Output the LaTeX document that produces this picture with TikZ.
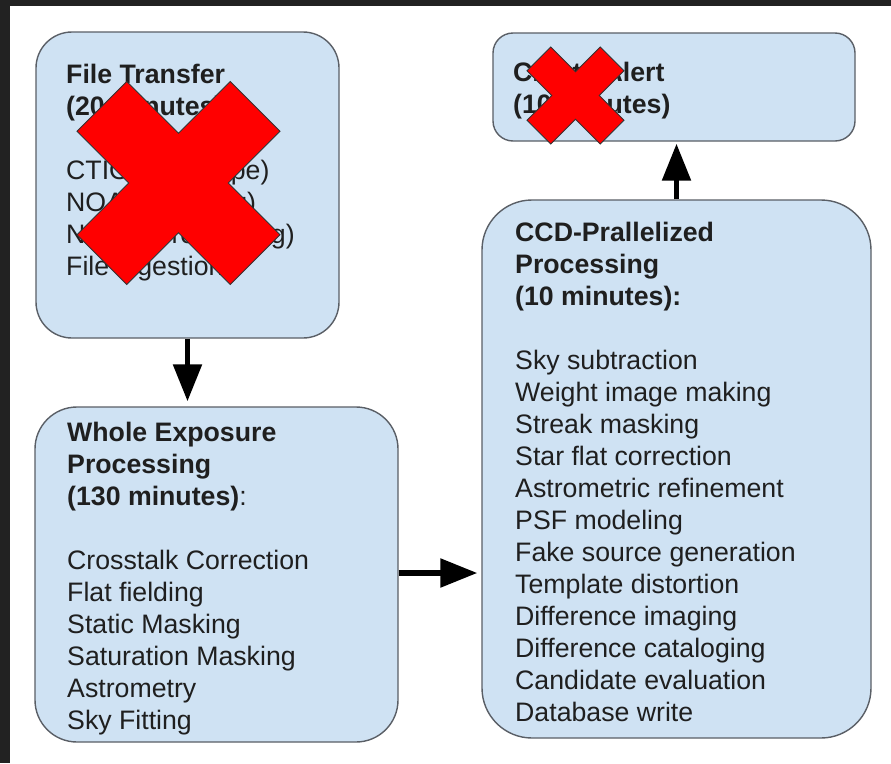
\documentclass[tikz,border=0pt]{standalone}
\usepackage{fontspec}
\setmainfont{Liberation Sans}
\usetikzlibrary{arrows.meta}

\definecolor{boxfill}{HTML}{CFE2F3}
\definecolor{boxline}{HTML}{5A5F66}
\definecolor{frameedge}{HTML}{222222}
\definecolor{xred}{HTML}{FF0000}
\definecolor{xline}{HTML}{333333}

\tikzset{
  stage/.style={draw=boxline, line width=1.4pt, fill=boxfill, inner sep=0pt},
  body/.style={inner sep=0pt, anchor=base west, font=\fontsize{26.7}{32}\selectfont, text=black!88},
  flow/.style={line width=5.5pt, draw=black, -{Triangle[length=37pt,width=28pt]}},
  xmark/.style={fill=xred, draw=xline, line width=1pt, line join=miter},
}

% a red cross centred at (#1,#2) with half size #3
\newcommand{\redcross}[3]{%
  \draw[xmark, shift={(#1,#2)}, x=#3pt, y=#3pt]
    (-0.51,-1) -- (0,-0.49) -- (0.51,-1) -- (1,-0.51) -- (0.49,0) -- (1,0.51)
    -- (0.51,1) -- (0,0.49) -- (-0.51,1) -- (-1,0.51) -- (-0.49,0) -- (-1,-0.51) -- cycle;}

\begin{document}
\begin{tikzpicture}[x=1pt, y=-1pt]
  \useasboundingbox (0,0) rectangle (891,763);
  \fill[white] (0,0) rectangle (891,763);
  \fill[frameedge] (0,0) rectangle (891,6);
  \fill[frameedge] (0,0) rectangle (10,763);

  % stage boxes
  \node[stage, rounded corners=36pt, minimum width=303pt, minimum height=306pt] (ft)  at (187.5,185) {};
  \node[stage, rounded corners=20pt, minimum width=362pt, minimum height=108pt] (al)  at (674,87) {};
  \node[stage, rounded corners=42pt, minimum width=363pt, minimum height=335pt] (wep) at (216.5,574.5) {};
  \node[stage, rounded corners=50pt, minimum width=389pt, minimum height=538pt] (ccd) at (676.5,469) {};

  % box texts
  \node[body] (ftt) at (66,83) {\begin{tabular}[t]{@{}l@{}}
    \textbf{File Transfer}\\
    \textbf{(20 minutes)}\\
    \\
    CTIO (telescope)\\
    NOAO (staging)\\
    NCSA (processing)\\
    File ingestion
  \end{tabular}};

  \node[body] (alt) at (513,81) {\begin{tabular}[t]{@{}l@{}}
    \textbf{Create Alert}\\
    \textbf{(10 minutes)}
  \end{tabular}};

  \node[body] (wept) at (67,441) {\begin{tabular}[t]{@{}l@{}}
    \textbf{Whole Exposure}\\
    \textbf{Processing}\\
    \textbf{(130 minutes)}:\\
    \\
    Crosstalk Correction\\
    Flat fielding\\
    Static Masking\\
    Saturation Masking\\
    Astrometry\\
    Sky Fitting
  \end{tabular}};

  \node[body] (ccdt) at (515,241) {\begin{tabular}[t]{@{}l@{}}
    \textbf{CCD-Prallelized}\\
    \textbf{Processing}\\
    \textbf{(10 minutes):}\\
    \\
    Sky subtraction\\
    Weight image making\\
    Streak masking\\
    Star flat correction\\
    Astrometric refinement\\
    PSF modeling\\
    Fake source generation\\
    Template distortion\\
    Difference imaging\\
    Difference cataloging\\
    Candidate evaluation\\
    Database write
  \end{tabular}};

  % connectors
  \draw[flow, shorten >=5pt] (ft.south) -- (ft.south |- wep.north);
  \draw[flow, shorten >=4pt] (wep.east |- 0,573) -- (ccd.west |- 0,573);
  \draw[flow, shorten >=2pt] (ccd.north) -- (ccd.north |- al.south);

  % crossed-out marks
  \redcross{178.5}{183}{101.5}
  \redcross{575.5}{95.5}{48.5}
\end{tikzpicture}
\end{document}
